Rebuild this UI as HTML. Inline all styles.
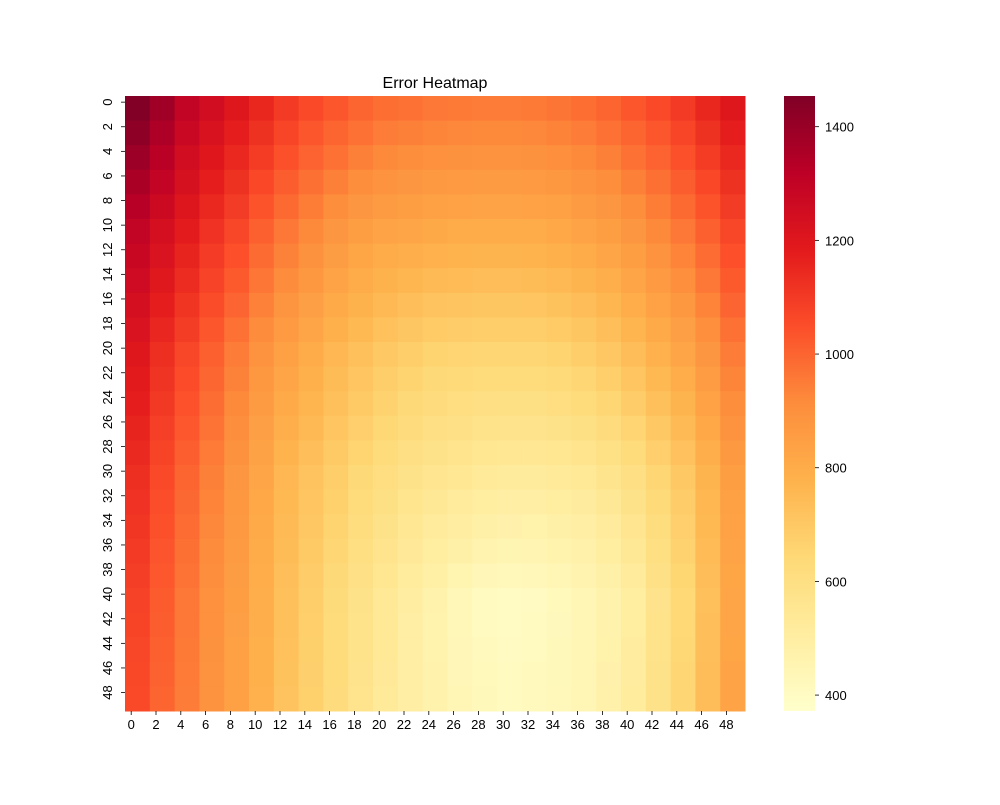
<!DOCTYPE html>
<html><head><meta charset="utf-8"><style>
body{margin:0;background:#fff;}
svg text{font-family:"Liberation Sans","DejaVu Sans",sans-serif;fill:#000;}
</style></head><body>
<svg id="chart" width="1000" height="800" viewBox="0 0 1000 800">
<text x="435" y="88" font-size="16" text-anchor="middle">Error Heatmap</text>
<defs><linearGradient id="cbg" x1="0" y1="1" x2="0" y2="0">
<stop offset="0" stop-color="#ffffcc"/><stop offset="0.125" stop-color="#ffeda0"/><stop offset="0.25" stop-color="#fed976"/><stop offset="0.375" stop-color="#feb24c"/><stop offset="0.5" stop-color="#fd8d3c"/><stop offset="0.625" stop-color="#fc4e2a"/><stop offset="0.75" stop-color="#e31a1c"/><stop offset="0.875" stop-color="#bd0026"/><stop offset="1" stop-color="#800026"/></linearGradient></defs>
<g id="cells"></g>
<g id="axes"></g>
<rect x="784" y="96" width="31" height="615" fill="url(#cbg)"/>
<g id="cbar"></g>
</svg>
<script>
const nRows = 50, nCols = 50, block = 2;
const xTicks = [0,2,4,6,8,10,12,14,16,18,20,22,24,26,28,30,32,34,36,38,40,42,44,46,48];
const yTicks = [0,2,4,6,8,10,12,14,16,18,20,22,24,26,28,30,32,34,36,38,40,42,44,46,48];
const cbTicks = [400,600,800,1000,1200,1400];
const vMin = 372, vMax = 1454;
const values = [
[1450,1380,1300,1250,1200,1150,1100,1060,1030,1000,980,970,960,955,950,950,955,965,980,1000,1030,1060,1100,1150,1200],
[1420,1352,1276,1224,1174,1122,1072,1032,1000,970,950,940,930,925,920,920,925,935,950,970,1000,1032,1072,1122,1174],
[1390,1324,1252,1198,1148,1094,1044,1004,970,940,920,910,900,895,890,890,895,905,920,940,970,1004,1044,1094,1148],
[1360,1296,1228,1172,1122,1066,1016,976,940,910,890,880,870,865,860,860,865,875,890,910,940,976,1016,1066,1122],
[1330,1268,1204,1146,1096,1038,988,948,910,880,860,850,840,835,830,830,835,845,860,880,910,948,988,1038,1096],
[1300,1240,1180,1120,1070,1010,960,920,880,850,830,820,810,805,800,800,805,815,830,850,880,920,960,1010,1070],
[1280,1218,1158,1098,1046,986,936,896,856,826,804,792,780,775,770,770,774,784,800,821,852,892,932,984,1046],
[1260,1196,1136,1076,1022,962,912,872,832,802,778,764,750,745,740,740,743,753,770,792,824,864,904,958,1022],
[1240,1174,1114,1054,998,938,888,848,808,778,752,736,720,715,710,710,712,722,740,763,796,836,876,932,998],
[1220,1152,1092,1032,974,914,864,824,784,754,726,708,690,685,680,680,681,691,710,734,768,808,848,906,974],
[1200,1130,1070,1010,950,890,840,800,760,730,700,680,660,655,650,650,650,660,680,705,740,780,820,880,950],
[1186,1116,1056,996,936,876,824,784,744,712,682,660,640,633,626,624,624,634,652,677,712,754,796,858,930],
[1172,1102,1042,982,922,862,808,768,728,694,664,640,620,611,602,598,598,608,624,649,684,728,772,836,910],
[1158,1088,1028,968,908,848,792,752,712,676,646,620,600,589,578,572,572,582,596,621,656,702,748,814,890],
[1144,1074,1014,954,894,834,776,736,696,658,628,600,580,567,554,546,546,556,568,593,628,676,724,792,870],
[1130,1060,1000,940,880,820,760,720,680,640,610,580,560,545,530,520,520,530,540,565,600,650,700,770,850],
[1120,1052,992,932,874,814,754,712,670,628,596,564,542,524,508,497,496,506,518,544,580,634,688,762,844],
[1110,1044,984,924,868,808,748,704,660,616,582,548,524,503,486,474,472,482,496,523,560,618,676,754,838],
[1100,1036,976,916,862,802,742,696,650,604,568,532,506,482,460,450,452,464,480,506,544,604,666,746,832],
[1090,1028,968,908,856,796,736,688,640,592,554,516,488,458,436,426,430,442,460,486,524,588,654,738,826],
[1080,1020,960,900,850,790,730,680,630,580,540,500,466,434,412,402,406,420,440,468,506,572,642,730,820],
[1075,1015,958,898,848,788,728,678,628,578,538,498,465,434,413,404,408,421,441,470,508,574,644,732,822],
[1070,1010,955,895,845,785,725,675,625,575,535,498,465,436,416,407,411,423,442,472,511,577,647,735,825],
[1065,1005,952,892,842,782,722,672,622,572,532,498,466,438,420,410,414,425,443,474,514,580,650,738,828],
[1060,1000,950,890,840,780,720,670,620,570,530,498,467,440,423,413,417,427,444,476,516,582,652,740,830]
];
const PL=125, PR=745, PT=96, PB=711, CBT=96, CBB=711;
const NS="http://www.w3.org/2000/svg";
function xs(c){return PL+c*(PR-PL)/nCols;}
function ys(r){return PT+r*(PB-PT)/nRows;}
function cy(v){return CBB-(v-vMin)/(vMax-vMin)*(CBB-CBT);}
const stops=[[255,255,204],[255,237,160],[254,217,118],[254,178,76],[253,141,60],[252,78,42],[227,26,28],[189,0,38],[128,0,38]];
function color(v){let t=Math.max(0,Math.min(1,(v-vMin)/(vMax-vMin)))*8;let i=Math.min(7,Math.floor(t)),f=t-i;
const a=stops[i],b=stops[i+1];return "rgb("+a.map((x,k)=>Math.round(x+(b[k]-x)*f)).join(",")+")";}
function mk(tag,attrs,parent){const e=document.createElementNS(NS,tag);for(const k in attrs)e.setAttribute(k,attrs[k]);parent.appendChild(e);return e;}
const cells=document.getElementById("cells");
values.forEach((row,i)=>row.forEach((v,j)=>{
 const r=mk("rect",{x:xs(j*block),y:ys(i*block),width:xs(j*block+block)-xs(j*block)+0.5,height:ys(i*block+block)-ys(i*block)+0.5,fill:color(v)},cells);
 
 
}));
const axes=document.getElementById("axes");
xTicks.forEach(t=>{const x=xs(t+0.5);
 const l=mk("line",{x1:x,x2:x,y1:PB,y2:PB+4,stroke:"#000","stroke-width":0.8},axes);
 
 
 const tx=mk("text",{x:x,y:PB+18,"font-size":13,"text-anchor":"middle"},axes);tx.textContent=t;
 
 
});
yTicks.forEach(t=>{const y=ys(t+0.5);
 const l=mk("line",{x1:PL-4,x2:PL,y1:y,y2:y,stroke:"#000","stroke-width":0.8},axes);
 
 
 const tx=mk("text",{x:PL-13,y:y,"font-size":13,"text-anchor":"middle",transform:"rotate(-90 "+(PL-13)+" "+y+")"},axes);tx.textContent=t;
 
 
});
const cb=document.getElementById("cbar");
cbTicks.forEach(t=>{const y=cy(t);
 const l=mk("line",{x1:815,x2:819,y1:y,y2:y,stroke:"#000","stroke-width":0.8},cb);
 
 
 const tx=mk("text",{x:825,y:y+5,"font-size":13},cb);tx.textContent=t;
 
 
});
</script>
</body></html>
